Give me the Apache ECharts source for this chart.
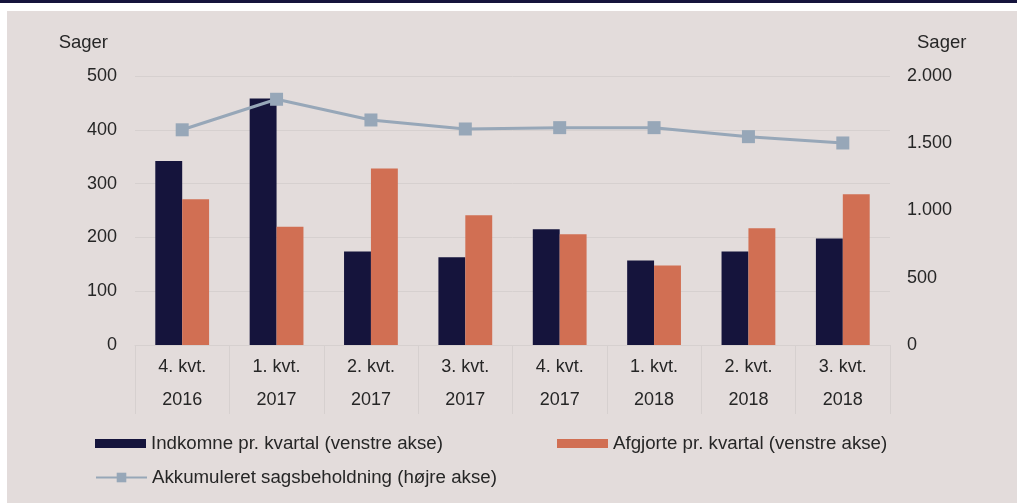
<!DOCTYPE html>
<html>
<head>
<meta charset="utf-8">
<script src="https://cdn.jsdelivr.net/npm/echarts@6/dist/echarts.min.js"></script>
<style>
  html, body { margin: 0; padding: 0; background: #ffffff; }
  #wrap { position: relative; width: 1017px; height: 503px; overflow: hidden; }
  #band { position: absolute; left: 0; top: 0; width: 1017px; height: 3px; background: #15143c; }
  #panel { position: absolute; left: 7px; top: 11px; width: 1010px; height: 492px; background: #e3dcdb; }
  #chart { position: absolute; left: 0; top: 0; width: 1017px; height: 503px; }
</style>
</head>
<body>
<div id="wrap">
  <div id="band"></div>
  <div id="panel"></div>
  <div id="chart"></div>
</div>
<script>
// kvartaler
const categories = ["4. kvt.\n2016", "1. kvt.\n2017", "2. kvt.\n2017", "3. kvt.\n2017",
                    "4. kvt.\n2017", "1. kvt.\n2018", "2. kvt.\n2018", "3. kvt.\n2018"]
// venstre akse
const indkomne = [342, 458, 174, 163, 215, 157, 174, 198]
const afgjorte = [271, 220, 328, 241, 206, 148, 217, 280]
// højre akse
const beholdning = [1600, 1827, 1673, 1606, 1616, 1616, 1549, 1502]

const font = "Liberation Sans, Arial, sans-serif"
const textColor = "#262626"
const gridColor = "#d6d0cf"
const legendText = { fontSize: 18.7, color: textColor, fontFamily: font }

const chart = echarts.init(document.getElementById("chart"))
const option = {
  animation: false,
  textStyle: { fontFamily: font },
  grid: { left: 135, right: 127, top: 76, bottom: 158 },
  legend: [
    {
      data: [{ name: "Indkomne pr. kvartal (venstre akse)", icon: "rect" }],
      left: 90, top: 429,
      itemWidth: 51, itemHeight: 9,
      textStyle: legendText,
    },
    {
      data: [{ name: "Afgjorte pr. kvartal (venstre akse)", icon: "rect" }],
      left: 552, top: 429,
      itemWidth: 51, itemHeight: 9,
      textStyle: legendText,
    },
    {
      data: ["Akkumuleret sagsbeholdning (højre akse)"],
      left: 90, top: 463,
      itemWidth: 51, itemHeight: 12,
      textStyle: legendText,
    },
  ],
  xAxis: {
    type: "category",
    data: categories,
    axisLine: { lineStyle: { color: gridColor, width: 1 } },
    axisTick: { show: true, length: 69, lineStyle: { color: gridColor } },
    axisLabel: { color: textColor, fontSize: 18, lineHeight: 33, margin: 6, interval: 0 },
  },
  yAxis: [
    {
      type: "value",
      min: 0, max: 500, interval: 100,
      name: "Sager",
      nameGap: 24,
      nameTextStyle: { color: textColor, fontSize: 18.5, align: "right", padding: [0, 27, 0, 0] },
      axisLabel: { color: textColor, fontSize: 18, margin: 18 },
      splitLine: { lineStyle: { color: gridColor, width: 1 } },
      axisLine: { show: false },
    },
    {
      type: "value",
      min: 0, max: 2000, interval: 500,
      name: "Sager",
      nameGap: 24,
      nameTextStyle: { color: textColor, fontSize: 18.5, align: "left", padding: [0, 0, 0, 27] },
      axisLabel: {
        color: textColor, fontSize: 18, margin: 17,
        formatter: v => String(v).replace(/\B(?=(\d{3})+(?!\d))/g, "."),
      },
      splitLine: { show: false },
      axisLine: { show: false },
    },
  ],
  series: [
    {
      name: "Indkomne pr. kvartal (venstre akse)",
      type: "bar",
      data: indkomne,
      barGap: "0%",
      barCategoryGap: "43%",
      itemStyle: { color: "#15143c" },
    },
    {
      name: "Afgjorte pr. kvartal (venstre akse)",
      type: "bar",
      data: afgjorte,
      itemStyle: { color: "#d16f53" },
    },
    {
      name: "Akkumuleret sagsbeholdning (højre akse)",
      type: "line",
      yAxisIndex: 1,
      data: beholdning,
      symbol: "rect",
      symbolSize: 13,
      lineStyle: { color: "#97a7b8", width: 3 },
      itemStyle: { color: "#97a7b8" },
      z: 5,
    },
  ],
}
chart.setOption(option)
</script>
</body>
</html>
